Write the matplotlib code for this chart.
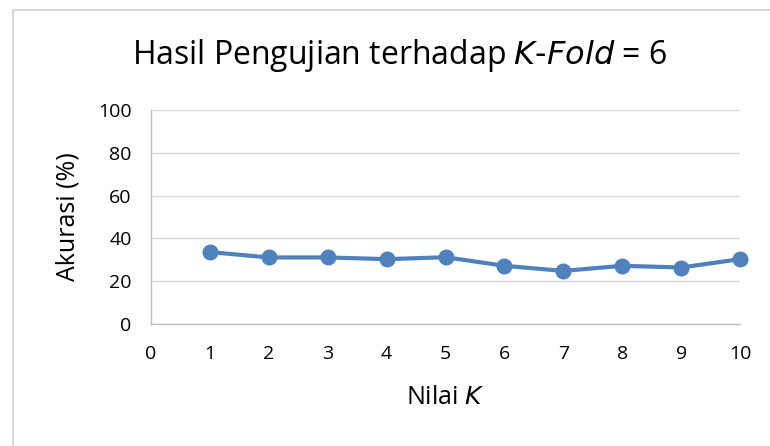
import matplotlib
matplotlib.use("Agg")
import matplotlib.pyplot as plt
from matplotlib.lines import Line2D

k_values = [1, 2, 3, 4, 5, 6, 7, 8, 9, 10]
accuracy = [33.6, 31.1, 31.1, 30.3, 31.2, 27.2, 24.8, 27.2, 26.4, 30.3]
x_ticks = list(range(0, 11))
y_ticks = [0, 20, 40, 60, 80, 100]

plt.rcParams['font.family'] = ['Open Sans', 'DejaVu Sans']

W, H = 770, 446
fig = plt.figure(figsize=(W / 100, H / 100), dpi=100)
# chart-area border (only top and left edges visible in the crop)
fig.add_artist(Line2D([13 / W, 13 / W], [0, 1 - 10 / H], transform=fig.transFigure,
                      color='#d9d9d9', linewidth=1.5))
fig.add_artist(Line2D([13 / W, 1], [1 - 10 / H, 1 - 10 / H], transform=fig.transFigure,
                      color='#d9d9d9', linewidth=1.5))

ax = fig.add_axes([151 / W, 1 - 324 / H, (740 - 151) / W, (324 - 110) / H])

ax.plot(k_values, accuracy, color='#4F81BD', linewidth=3, marker='o', markersize=10.5,
        clip_on=False, zorder=3)

ax.set_xlim(0, 10)
ax.set_ylim(0, 100)
ax.set_xticks(x_ticks)
ax.set_yticks(y_ticks)
ax.tick_params(axis='both', length=0, labelsize=14, colors='#000000')
ax.tick_params(axis='x', pad=15)
ax.tick_params(axis='y', pad=14)
ax.grid(axis='y', color='#d9d9d9', linewidth=1)
ax.set_axisbelow(True)
for s in ['top', 'right']:
    ax.spines[s].set_visible(False)
for s in ['left', 'bottom']:
    ax.spines[s].set_color('#bfbfbf')
    ax.spines[s].set_linewidth(1)

ax.set_xlabel('Nilai $\\mathit{K}$', fontsize=18)
ax.xaxis.label.set_va('center')
ax.xaxis.set_label_coords(0.5, (324 - 398) / 214)
ax.set_ylabel('Akurasi (%)', fontsize=18)
ax.yaxis.label.set_va('center')
ax.yaxis.set_label_coords((68 - 151) / 589, 0.5)

fig.text(400 / W, 1 - 55 / H, 'Hasil Pengujian terhadap $\\mathit{K\\text{-}Fold}$ = 6',
         ha='center', va='center', fontsize=23)

fig.savefig('out.png', dpi=100)
